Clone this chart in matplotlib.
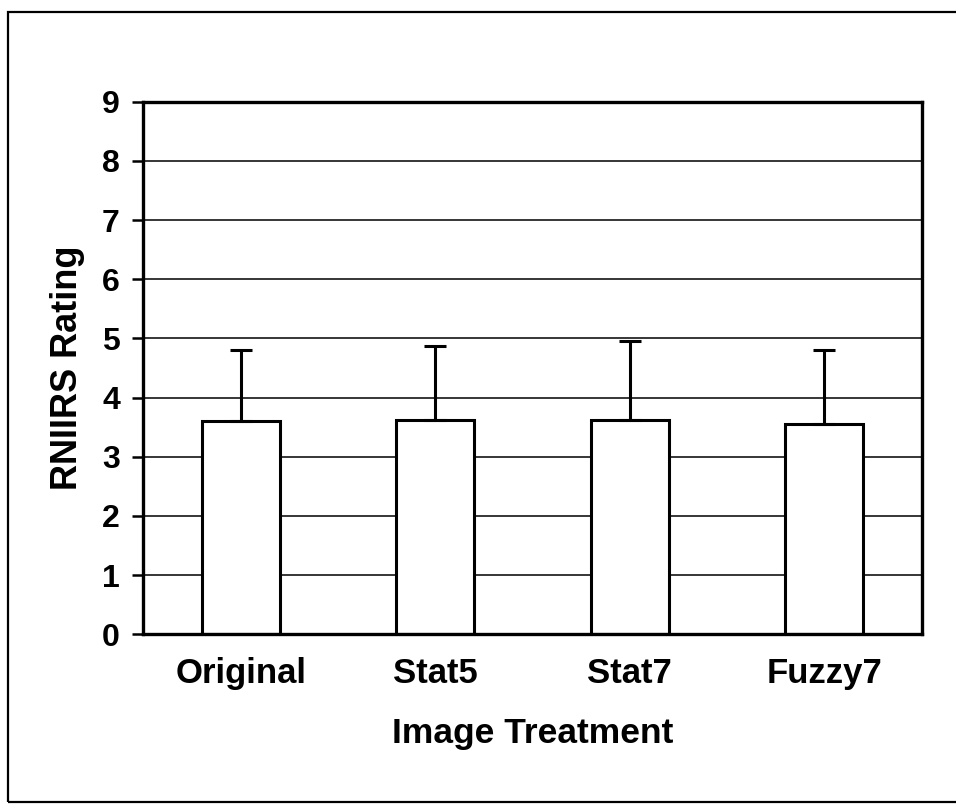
import matplotlib
matplotlib.use('Agg')
import matplotlib.pyplot as plt
from matplotlib.patches import Rectangle

# Values
treatments = ['Original', 'Stat5', 'Stat7', 'Fuzzy7']
mean_rating = [3.60, 3.63, 3.62, 3.55]
std_rating = [1.20, 1.25, 1.34, 1.25]
y_ticks = [0, 1, 2, 3, 4, 5, 6, 7, 8, 9]

plt.rcParams['font.family'] = ['Liberation Sans', 'DejaVu Sans']
plt.rcParams['font.weight'] = 'bold'

fig = plt.figure(figsize=(9.56, 8.08), dpi=100)
ax = fig.add_axes([0.150, 0.215, 0.814, 0.659])

x = list(range(len(treatments)))

# horizontal grid lines behind the bars
for yv in y_ticks[1:-1]:
    ax.axhline(yv, color='black', linewidth=1.1, zorder=0)

ax.bar(x, mean_rating, width=0.4, color='white', edgecolor='black',
       linewidth=2.2, zorder=2)
ax.errorbar(x, mean_rating, yerr=[[0] * len(x), std_rating], fmt='none',
            ecolor='black', elinewidth=2.2, capsize=8, capthick=2.2, zorder=3)

ax.set_xlim(-0.5, len(treatments) - 0.5)
ax.set_ylim(0, 9)
ax.set_yticks(y_ticks)
ax.set_yticklabels([str(v) for v in y_ticks], fontsize=23, fontweight='bold')
ax.set_xticks(x)
ax.set_xticklabels(treatments, fontsize=25, fontweight='bold')
ax.tick_params(axis='y', direction='out', length=8, width=1.8, pad=9)
ax.tick_params(axis='x', length=0, pad=16)

for spine in ax.spines.values():
    spine.set_linewidth(2.4)

ax.set_xlabel('Image Treatment', fontsize=25.5, fontweight='bold', labelpad=20)
ax.set_ylabel('RNIIRS Rating', fontsize=26, fontweight='bold', labelpad=12)

# outer frame around the whole chart
fig.patches.append(Rectangle((0.008, 0.007), 1.05, 0.978, transform=fig.transFigure,
                             fill=False, edgecolor='black', linewidth=1.6,
                             clip_on=False))

fig.savefig('out.png', dpi=100)
